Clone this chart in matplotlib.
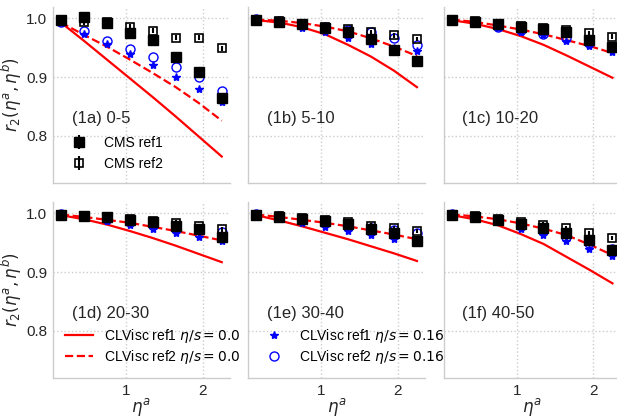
import matplotlib
matplotlib.use("Agg")
import matplotlib.pyplot as plt

plt.rcParams['font.family'] = ['Liberation Sans', 'DejaVu Sans']
plt.rcParams['axes.edgecolor'] = '#cccccc'
plt.rcParams['axes.linewidth'] = 1.0

# eta^a bins
eta = [0.15, 0.45, 0.75, 1.05, 1.35, 1.65, 1.95, 2.25]

labels = ["(1a) 0-5", "(1b) 5-10", "(1c) 10-20",
          "(1d) 20-30", "(1e) 30-40", "(1f) 40-50"]

# CMS ref1 (filled squares)
cms1 = [
    [0.997, 1.002, 0.992, 0.975, 0.964, 0.935, 0.909, 0.865],
    [0.997, 0.994, 0.990, 0.983, 0.977, 0.965, 0.946, 0.928],
    [0.998, 0.994, 0.990, 0.986, 0.982, 0.976, 0.964, 0.952],
    [0.998, 0.995, 0.993, 0.989, 0.985, 0.979, 0.973, 0.960],
    [0.998, 0.994, 0.991, 0.987, 0.982, 0.974, 0.966, 0.953],
    [0.997, 0.994, 0.989, 0.982, 0.975, 0.967, 0.955, 0.937],
]
cms1_err = 0.003
# CMS ref2 (open squares)
cms2 = [
    [0.998, 0.993, 0.993, 0.986, 0.979, 0.967, 0.967, 0.949],
    [0.998, 0.995, 0.991, 0.986, 0.982, 0.977, 0.971, 0.965],
    [0.998, 0.995, 0.991, 0.987, 0.983, 0.980, 0.975, 0.969],
    [0.998, 0.996, 0.994, 0.990, 0.987, 0.984, 0.978, 0.973],
    [0.998, 0.995, 0.992, 0.988, 0.985, 0.979, 0.975, 0.970],
    [0.998, 0.995, 0.990, 0.985, 0.981, 0.975, 0.966, 0.958],
]
cms2_err = 0.004
# CLVisc ref1 eta/s=0.16 (stars)
visc1 = [
    [0.992, 0.973, 0.956, 0.940, 0.920, 0.900, 0.880, 0.857],
    [0.997, 0.993, 0.984, 0.976, 0.966, 0.956, 0.950, 0.945],
    [0.997, 0.992, 0.983, 0.977, 0.971, 0.962, 0.953, 0.942],
    [0.999, 0.994, 0.987, 0.980, 0.973, 0.967, 0.960, 0.953],
    [0.999, 0.993, 0.983, 0.977, 0.970, 0.964, 0.957, 0.950],
    [0.999, 0.993, 0.987, 0.973, 0.964, 0.953, 0.940, 0.928],
]
# CLVisc ref2 eta/s=0.16 (open circles)
visc2 = [
    [0.993, 0.978, 0.962, 0.948, 0.935, 0.918, 0.900, 0.877],
    [0.999, 0.996, 0.990, 0.986, 0.981, 0.976, 0.966, 0.955],
    [0.998, 0.994, 0.986, 0.980, 0.974, 0.966, 0.958, 0.950],
    [0.999, 0.995, 0.991, 0.986, 0.981, 0.976, 0.972, 0.968],
    [0.999, 0.995, 0.990, 0.985, 0.980, 0.975, 0.971, 0.967],
    [0.999, 0.994, 0.988, 0.979, 0.970, 0.960, 0.950, 0.940],
]
# CLVisc ref1 eta/s=0.0 (solid line)
ideal1 = [
    [0.993, 0.962, 0.930, 0.898, 0.866, 0.833, 0.799, 0.765],
    [0.997, 0.993, 0.985, 0.973, 0.955, 0.935, 0.911, 0.883],
    [0.997, 0.991, 0.982, 0.970, 0.955, 0.937, 0.918, 0.899],
    [0.997, 0.990, 0.981, 0.970, 0.958, 0.945, 0.931, 0.917],
    [0.997, 0.988, 0.978, 0.967, 0.956, 0.944, 0.932, 0.919],
    [0.997, 0.990, 0.980, 0.965, 0.948, 0.926, 0.904, 0.881],
]
# CLVisc ref2 eta/s=0.0 (dashed line)
ideal2 = [
    [0.993, 0.972, 0.952, 0.930, 0.907, 0.883, 0.856, 0.826],
    [0.998, 0.996, 0.992, 0.986, 0.978, 0.966, 0.952, 0.936],
    [0.998, 0.994, 0.988, 0.981, 0.973, 0.963, 0.953, 0.941],
    [0.998, 0.994, 0.989, 0.984, 0.977, 0.970, 0.962, 0.954],
    [0.998, 0.994, 0.989, 0.984, 0.978, 0.971, 0.964, 0.956],
    [0.998, 0.995, 0.990, 0.983, 0.974, 0.963, 0.947, 0.929],
]

W, H = 617, 417
fig = plt.figure(figsize=(W/100., H/100.), dpi=100)

# axes boxes in pixels: left, top (of axes), width, height
lefts = [52.8, 248.0, 443.5]
tops = [6.6, 201.6]
aw, ah = 177.0, 176.4

axes = []
for i in range(6):
   r, c = divmod(i, 3)
   ax = fig.add_axes([lefts[c]/W, 1 - (tops[r] + ah)/H, aw/W, ah/H])
   axes.append(ax)

for i, ax in enumerate(axes):
   r, c = divmod(i, 3)
   l1, = ax.plot(eta, ideal1[i], '-', color='red', lw=1.6, label=r"CLVisc ref1 $\eta/s=0.0$")
   l2, = ax.plot(eta, ideal2[i], '--', color='red', lw=1.6, label=r"CLVisc ref2 $\eta/s=0.0$")
   s1, = ax.plot(eta, visc1[i], '*', color='blue', ms=6, ls='none', label=r"CLVisc ref1 $\eta/s=0.16$")
   s2, = ax.plot(eta, visc2[i], 'o', mfc='none', mec='blue', ms=6.5, mew=1.0, ls='none', label=r"CLVisc ref2 $\eta/s=0.16$")
   e2 = ax.errorbar(eta, cms2[i], yerr=cms2_err, fmt='s', mfc='none', mec='k', ecolor='k',
                    ms=6, mew=1.2, elinewidth=1.5, label="CMS ref2")
   e1 = ax.errorbar(eta, cms1[i], yerr=cms1_err, fmt='s', color='k', ms=6.5,
                    elinewidth=1.5, label="CMS ref1")
   ax.text(0.29, 0.83, labels[i], fontsize=12, color='#262626', va='center', ha='left')

   ax.set_xlim(0.045, 2.355)
   ax.set_ylim(0.72, 1.02)
   ax.set_xticks([1, 2])
   ax.set_yticks([0.8, 0.9, 1.0])
   ax.grid(True, ls=':', color='#cccccc', lw=1.0)
   ax.set_axisbelow(True)
   ax.spines['top'].set_visible(False)
   ax.spines['right'].set_visible(False)
   ax.tick_params(length=0, labelsize=11, labelcolor='#262626', pad=4)
   if c == 0:
      ax.set_ylabel(r"$r_2(\eta^a,\eta^b)$", fontsize=12, color='#262626')
      ax.yaxis.set_label_coords(-0.16, 0.5)
   else:
      ax.tick_params(labelleft=False)
   if r == 1:
      ax.set_xlabel(r"$\eta^a$", fontsize=12, color='#262626', labelpad=-1)
   else:
      ax.tick_params(labelbottom=False)

   if i == 0:
      ax.legend([e1, e2], ["CMS ref1", "CMS ref2"], loc='lower left', frameon=False, fontsize=10)
   elif i == 3:
      ax.legend([l1, l2], [l1.get_label(), l2.get_label()], loc='lower left', frameon=False,
                fontsize=10, labelspacing=0.2)
   elif i == 4:
      ax.legend([s1, s2], [s1.get_label(), s2.get_label()], loc='lower left', frameon=False,
                fontsize=10, labelspacing=0.2)

fig.savefig("out.png", dpi=100)
